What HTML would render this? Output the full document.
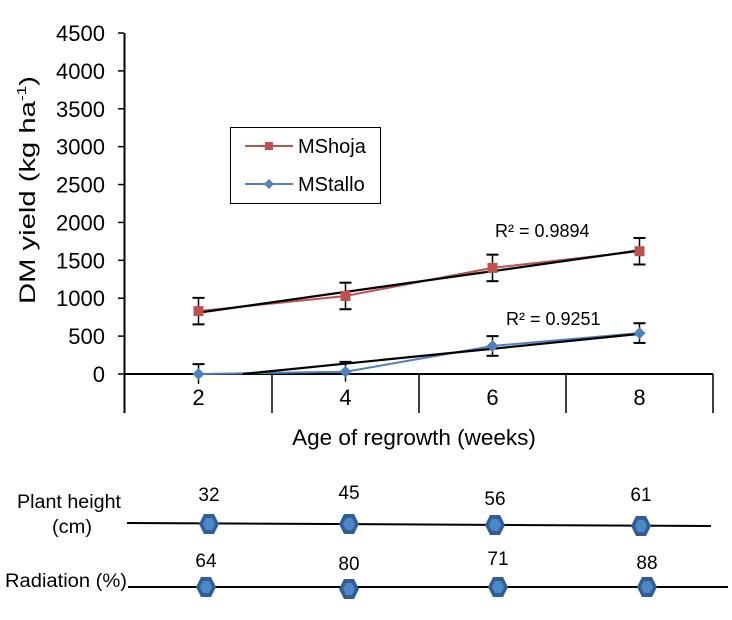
<!DOCTYPE html>
<html><head><meta charset="utf-8"><style>
html,body{margin:0;padding:0;background:#fff;}
body{position:relative;width:732px;height:620px;overflow:hidden;}
svg{display:block;font-family:"Liberation Sans",Arial,sans-serif;}
#xtitle{position:absolute;left:254px;top:425px;width:320px;text-align:center;font-family:"Liberation Sans",Arial,sans-serif;font-size:22.5px;line-height:26px;white-space:nowrap;color:#000;}
</style></head><body>
<svg id="chart" width="732" height="620" viewBox="0 0 732 620" xmlns="http://www.w3.org/2000/svg">
<g id="axes"></g>
<g id="series"></g>
<g id="bottom"></g>
<text transform="translate(35,190) rotate(-90)" text-anchor="middle" font-size="22" textLength="228" lengthAdjust="spacingAndGlyphs">DM yield  (kg ha<tspan font-size="13" dy="-9">-1</tspan><tspan dy="9">)</tspan></text>
<g>
<rect x="230.5" y="127.5" width="150" height="76" fill="#fff" stroke="#000" stroke-width="1"/>
<line x1="245" y1="146" x2="293" y2="146" stroke="#c0504d" stroke-width="2"/>
<rect x="265" y="142" width="8" height="8" fill="#c0504d"/>
<text x="298" y="153" font-size="20">MShoja</text>
<line x1="245" y1="184" x2="293" y2="184" stroke="#4f81bd" stroke-width="2"/>
<polygon points="269,179 274,184 269,189 264,184" fill="#4f81bd"/>
<text x="298" y="191" font-size="20">MStallo</text>
</g>
<text x="495" y="237" font-size="18">R² = 0.9894</text>
<text x="506" y="325" font-size="18">R² = 0.9251</text>
</svg>
<div id="xtitle">Age of regrowth (weeks)</div>
<script>
const categories = [2, 4, 6, 8];
const yTicks = [0, 500, 1000, 1500, 2000, 2500, 3000, 3500, 4000, 4500];
const shojaValues = [830, 1030, 1400, 1620];
const shojaErrors = [175, 175, 175, 175];
const stalloValues = [0, 30, 370, 540];
const stalloErrors = [130, 130, 130, 130];
const heightValues = [32, 45, 56, 61];
const radiationValues = [64, 80, 71, 88];

const NS = 'http://www.w3.org/2000/svg';
const X0 = 125, BAND = 147, Y0 = 374, Y1 = 33, YMAX = 4500;
const xPos = i => X0 + BAND * (i + 0.5);
const yPos = v => Y0 - (v / YMAX) * (Y0 - Y1);
function mk(tag, attrs, parent) {
  const e = document.createElementNS(NS, tag);
  for (const k in attrs) e.setAttribute(k, attrs[k]);
  parent.appendChild(e);
  return e;
}
const axes = document.getElementById('axes');
const series = document.getElementById('series');
const bottom = document.getElementById('bottom');

let ya = mk('line', {x1: 124.5, y1: Y1, x2: 124.5, y2: 413, stroke: '#000', 'stroke-width': 2}, axes);


yTicks.forEach(t => {
  const y = yPos(t);
  mk('line', {x1: 118, y1: y, x2: 124, y2: y, stroke: '#000', 'stroke-width': 1.5}, axes);
  const tx = mk('text', {x: 105, y: y + 8, 'text-anchor': 'end', 'font-size': 22}, axes);
  tx.textContent = t;
  
  
});
let xa = mk('line', {x1: X0, y1: Y0, x2: X0 + BAND * categories.length, y2: Y0, stroke: '#000', 'stroke-width': 2}, axes);


for (let i = 1; i <= categories.length; i++) {
  mk('line', {x1: X0 + BAND * i, y1: Y0, x2: X0 + BAND * i, y2: 413, stroke: '#000', 'stroke-width': 1.5}, axes);
}
categories.forEach((c, i) => {
  const tx = mk('text', {x: xPos(i), y: 405, 'text-anchor': 'middle', 'font-size': 22}, axes);
  tx.textContent = c;
  
  
});

function regression(vals) {
  const n = vals.length, mx = categories.reduce((a, b) => a + b) / n, my = vals.reduce((a, b) => a + b) / n;
  let sxy = 0, sxx = 0;
  categories.forEach((x, i) => { sxy += (x - mx) * (vals[i] - my); sxx += (x - mx) * (x - mx); });
  const m = sxy / sxx; return {m, b: my - m * mx};
}
function xOfCat(c) {
  return xPos(0) + (c - categories[0]) / (categories[1] - categories[0]) * BAND;
}
function drawSeries(vals, errs, color, marker, name) {
  const g = mk('g', {}, series);
  
  
  const pts = vals.map((v, i) => xPos(i) + ',' + yPos(v)).join(' ');
  mk('polyline', {points: pts, fill: 'none', stroke: color, 'stroke-width': 2}, g);
  const r = regression(vals);
  let c0 = categories[0], c1 = categories[categories.length - 1];
  if (r.m * c0 + r.b < 0 && r.m > 0) c0 = -r.b / r.m;
  const tl = mk('line', {x1: xOfCat(c0), y1: yPos(r.m * c0 + r.b), x2: xOfCat(c1), y2: yPos(r.m * c1 + r.b), stroke: '#000', 'stroke-width': 2.2}, g);
  
  
  vals.forEach((v, i) => {
    const x = xPos(i), y = yPos(v), yt = yPos(v + errs[i]), yb = yPos(v - errs[i]);
    mk('line', {x1: x, y1: yt, x2: x, y2: Math.min(yb, 413), stroke: '#000', 'stroke-width': 1.5}, g);
    mk('line', {x1: x - 6, y1: yt, x2: x + 6, y2: yt, stroke: '#000', 'stroke-width': 2}, g);
    if (v - errs[i] >= 0) mk('line', {x1: x - 6, y1: yb, x2: x + 6, y2: yb, stroke: '#000', 'stroke-width': 2}, g);
    let m;
    if (marker === 'square') m = mk('rect', {x: x - 5, y: y - 5, width: 10, height: 10, fill: color}, g);
    else m = mk('polygon', {points: `${x},${y-6} ${x+6},${y} ${x},${y+6} ${x-6},${y}`, fill: color}, g);
    
    
  });
}
drawSeries(shojaValues, shojaErrors, '#c0504d', 'square', 'mshoja');
drawSeries(stalloValues, stalloErrors, '#4f81bd', 'diamond', 'mstallo');

function hex(cx, cy, parent) {
  const g = mk('g', {}, parent);
  mk('polygon', {points: `${cx-5},${cy-10} ${cx+5},${cy-10} ${cx+10},${cy} ${cx+5},${cy+10} ${cx-5},${cy+10} ${cx-10},${cy}`, fill: '#2f5d99'}, g);
  mk('polygon', {points: `${cx-3},${cy-6} ${cx+3},${cy-6} ${cx+6},${cy} ${cx+3},${cy+6} ${cx-3},${cy+6} ${cx-6},${cy}`, fill: '#4f86c6'}, g);
  return g;
}
const hx = [209, 349, 495, 641];
const rx = [206, 349, 498, 647];
let l1 = mk('line', {x1: 127, y1: 523, x2: 711, y2: 526, stroke: '#000', 'stroke-width': 2}, bottom);


let l2 = mk('line', {x1: 128, y1: 587, x2: 728, y2: 587, stroke: '#000', 'stroke-width': 2}, bottom);


const hy = [524, 524, 525, 526], hly = [501, 499, 505, 501];
const ry = [587, 589, 587, 587], rly = [567, 570, 565, 569];
heightValues.forEach((v, i) => {
  const m = hex(hx[i], hy[i], bottom);
  
  
  const t = mk('text', {x: hx[i], y: hly[i], 'text-anchor': 'middle', 'font-size': 19}, bottom);
  t.textContent = v;
  
  
});
radiationValues.forEach((v, i) => {
  const m = hex(rx[i], ry[i], bottom);
  
  
  const t = mk('text', {x: rx[i], y: rly[i], 'text-anchor': 'middle', 'font-size': 19}, bottom);
  t.textContent = v;
  
  
});
[['Plant height', 69, 508, 104], ['(cm)', 72, 533, 40], ['Radiation (%)', 66, 587, 122]].forEach(([s, x, y, w]) => {
  const t = mk('text', {x: x, y: y, 'text-anchor': 'middle', 'font-size': 19, textLength: w, lengthAdjust: 'spacingAndGlyphs'}, bottom);
  t.textContent = s;
  
  
});
</script>
</body></html>
